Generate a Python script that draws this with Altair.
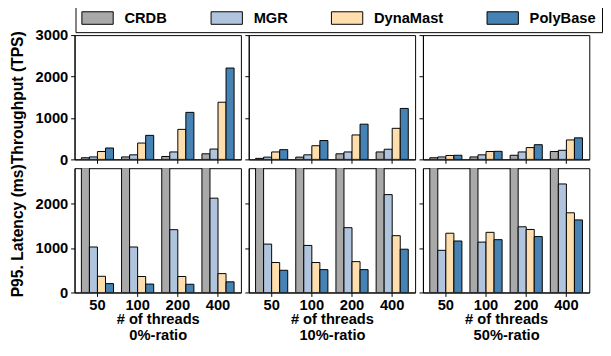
import altair as alt
import pandas as pd

threads = ["50", "100", "200", "400"]
systems = ["CRDB", "MGR", "DynaMast", "PolyBase"]
colors = ["#a9a9a9", "#b0c4de", "#ffdead", "#4682b4"]
ratios = ["0%-ratio", "10%-ratio", "50%-ratio"]

# Throughput (TPS), values per thread count
tps_0_crdb = [40, 60, 70, 135]
tps_0_mgr = [60, 110, 180, 250]
tps_0_dyna = [190, 395, 725, 1380]
tps_0_poly = [275, 580, 1135, 2205]

tps_10_crdb = [25, 55, 135, 180]
tps_10_mgr = [55, 110, 180, 245]
tps_10_dyna = [180, 330, 590, 750]
tps_10_poly = [235, 455, 850, 1230]

tps_50_crdb = [40, 60, 100, 190]
tps_50_mgr = [60, 110, 180, 220]
tps_50_dyna = [95, 190, 285, 470]
tps_50_poly = [100, 195, 355, 520]

# P95 latency (ms); CRDB bars run off the top of the axis
lat_0_crdb = [6000, 6000, 6000, 6000]
lat_0_mgr = [1025, 1025, 1415, 2125]
lat_0_dyna = [365, 360, 360, 425]
lat_0_poly = [200, 190, 185, 240]

lat_10_crdb = [6000, 6000, 6000, 6000]
lat_10_mgr = [1090, 1060, 1460, 2205]
lat_10_dyna = [675, 675, 695, 1280]
lat_10_poly = [500, 515, 515, 975]

lat_50_crdb = [6000, 6000, 6000, 6000]
lat_50_mgr = [950, 1135, 1480, 2445]
lat_50_dyna = [1335, 1355, 1420, 1795]
lat_50_poly = [1160, 1190, 1260, 1635]

series = {
    ("tps", "0%-ratio"): [tps_0_crdb, tps_0_mgr, tps_0_dyna, tps_0_poly],
    ("tps", "10%-ratio"): [tps_10_crdb, tps_10_mgr, tps_10_dyna, tps_10_poly],
    ("tps", "50%-ratio"): [tps_50_crdb, tps_50_mgr, tps_50_dyna, tps_50_poly],
    ("lat", "0%-ratio"): [lat_0_crdb, lat_0_mgr, lat_0_dyna, lat_0_poly],
    ("lat", "10%-ratio"): [lat_10_crdb, lat_10_mgr, lat_10_dyna, lat_10_poly],
    ("lat", "50%-ratio"): [lat_50_crdb, lat_50_mgr, lat_50_dyna, lat_50_poly],
}

rows = []
for (metric, ratio), lists in series.items():
    for s, vals in zip(systems, lists):
        for t, v in zip(threads, vals):
            rows.append({"metric": metric, "ratio": ratio, "system": s, "threads": t, "value": v})
df = pd.DataFrame(rows)

FONT = "Liberation Sans"
W, H = 170, 127


def panel(metric, ratio, first):
    top = metric == "tps"
    xaxis_kw = dict(labelAngle=0, tickSize=4, labelPadding=1, titlePadding=0)
    if top:
        xaxis_kw.update(labels=False, title=None)
    else:
        xaxis_kw.update(title=["# of threads", ratio])
    yaxis_kw = dict(grid=False, tickSize=4, labelPadding=3, format="d",
                    values=[0, 1000, 2000, 3000] if top else [0, 1000, 2000])
    if first:
        yaxis_kw.update(title="Throughput (TPS)" if top else "P95. Latency (ms)", titlePadding=10)
    else:
        yaxis_kw.update(labels=False, title=None)
    return (
        alt.Chart(df)
        .transform_filter((alt.datum.metric == metric) & (alt.datum.ratio == ratio))
        .mark_bar(stroke="black", strokeWidth=1, clip=True)
        .encode(
            x=alt.X("threads:N", sort=threads,
                    scale=alt.Scale(paddingInner=0.2, paddingOuter=0.17),
                    axis=alt.Axis(**xaxis_kw)),
            xOffset=alt.XOffset("system:N", sort=systems,
                                scale=alt.Scale(paddingInner=0, paddingOuter=0)),
            y=alt.Y("value:Q",
                    scale=alt.Scale(domain=[0, 3000] if top else [0, 2800], nice=False),
                    axis=alt.Axis(**yaxis_kw)),
            color=alt.Color("system:N", sort=systems,
                            scale=alt.Scale(domain=systems, range=colors),
                            legend=alt.Legend(title=None)),
        )
        .properties(width=W, height=H)
    )


panels = [panel(m, r, i == 0) for m in ["tps", "lat"] for i, r in enumerate(ratios)]

chart = (
    alt.concat(*panels, columns=3, spacing={"row": 9, "column": 8}, bounds="flush")
    .properties(padding={"left": 1, "top": -9, "right": 0, "bottom": 0})
    .configure_view(stroke="black", strokeWidth=1)
    .configure_axis(
        labelFont=FONT, labelFontSize=15, labelFontWeight="bold", labelColor="black",
        titleFont=FONT, titleFontSize=15, titleFontWeight="bold", titleColor="black",
        titleLineHeight=16, domainColor="black", tickColor="black",
    )
    .configure_axisY(titleFontSize=16)
    .configure_legend(
        orient="none", legendX=1, legendY=-32, direction="horizontal", columns=4,
        strokeColor="black", padding=6, columnPadding=42,
        symbolType="M-1,-0.8L3,-0.8L3,0.8L-1,0.8Z", symbolSize=256,
        symbolStrokeColor="black", symbolStrokeWidth=1, symbolOpacity=1,
        labelFont=FONT, labelFontSize=15, labelFontWeight="bold", labelColor="black",
        labelOffset=27,
    )
)

chart.save("out.html", embed_options={"renderer": "svg", "actions": False})
